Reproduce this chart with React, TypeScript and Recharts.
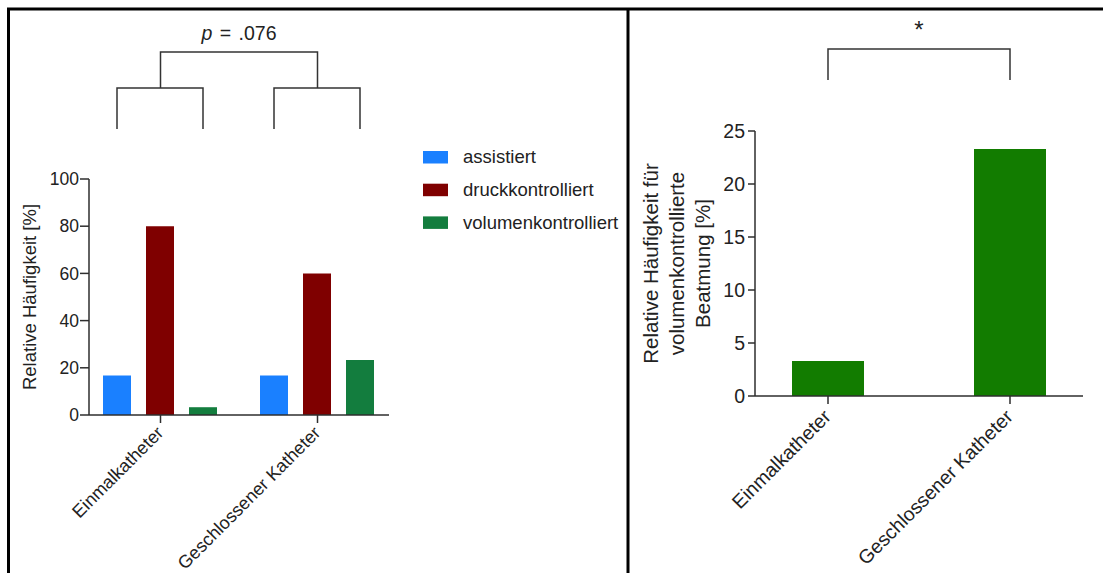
import React from 'react';
import { BarChart, Bar, XAxis, YAxis } from 'recharts';

// ---------- data ----------
const categories = ['Einmalkatheter', 'Geschlossener Katheter'];
const seriesNames = ['assistiert', 'druckkontrolliert', 'volumenkontrolliert'];
const assistiert = [16.7, 16.7];
const druckkontrolliert = [80, 60];
const volumenkontrolliert = [3.3, 23.3];
const leftTicks = [0, 20, 40, 60, 80, 100];

const rightValues = [3.3, 23.3];
const rightTicks = [0, 5, 10, 15, 20, 25];

const leftAnnotation = 'p';
const leftAnnotationRest = ' = .076';
const rightAnnotation = '*';
const leftYLabel = 'Relative Häufigkeit [%]';
const rightYLabel = ['Relative Häufigkeit für', 'volumenkontrollierte', 'Beatmung [%]'];

// ---------- styles ----------
const FONT = '"Liberation Sans", Arial, Helvetica, sans-serif';
const TEXT = '#222';
const AXIS = '#2e2e2e';
const seriesColors = ['#1a80ff', '#7f0000', '#137d3e'];
const rightColor = '#127c00';

// layout constants
const W = 1103;
const H = 573;
const L = { chartW: 628, plotX: 89, plotW: 300, plotY: 179, plotH: 236, pad: -7, catGap: 21, barGap: 15 };
const R = { chartX: 630, chartW: 473, plotX: 755, plotW: 328, plotY: 131, plotH: 265, pad: -18, barSize: 72 };

const leftData = categories.map((c, i) => ({
  name: c,
  assistiert: assistiert[i],
  druckkontrolliert: druckkontrolliert[i],
  volumenkontrolliert: volumenkontrolliert[i],
}));
const rightData = categories.map((c, i) => ({ name: c, value: rightValues[i] }));

const makeTick = (fontSize: number, dx: number, dy: number) => (props: any) => {
  const { x, y, payload } = props;
  return (
    <text
      transform={`translate(${x + dx},${y + dy}) rotate(-45)`}
      textAnchor="end"
      fontSize={fontSize}
      fontFamily={FONT}
      fill={TEXT}
    >
      {payload.value}
    </text>
  );
};

// geometry helpers for annotations (derived from layout constants)
const leftBand = (L.plotW - 2 * L.pad) / categories.length;
const leftCenter = (i: number) => L.plotX + L.pad + leftBand * (i + 0.5);
const leftBarW = Math.floor((leftBand - 2 * L.catGap - (seriesNames.length - 1) * L.barGap) / seriesNames.length);
const leftBarCenter = (i: number, s: number) =>
  L.plotX + L.pad + leftBand * i + L.catGap + (leftBarW + L.barGap) * s + leftBarW / 2;
const rightBand = (R.plotW - 2 * R.pad) / categories.length;
const rightCenter = (i: number) => R.plotX + R.pad + rightBand * (i + 0.5);

export default function App() {
  const bracketStroke = { stroke: '#333', strokeWidth: 1.5, fill: 'none' };
  const yTop1 = 52, yMid1 = 88, yBot1 = 129;
  const c0 = leftCenter(0), c1 = leftCenter(1);
  const lyc = L.plotY + L.plotH / 2;
  const ryc = R.plotY + R.plotH / 2;
  return (
    <div style={{ position: 'absolute', left: 0, top: 0, width: W, height: H, background: '#fff', overflow: 'hidden' }}>
      <div style={{ position: 'absolute', left: 0, top: 0 }}>
        <BarChart
          width={L.chartW}
          height={H}
          data={leftData}
          margin={{ top: L.plotY, right: L.chartW - L.plotX - L.plotW, bottom: H - L.plotY - L.plotH - 120, left: L.plotX - 60 }}
          barCategoryGap={L.catGap}
          barGap={L.barGap}
        >
          <XAxis
            dataKey="name"
            height={120}
            interval={0}
            padding={{ left: L.pad, right: L.pad }}
            tickSize={8}
            tickMargin={2}
            axisLine={{ stroke: AXIS, strokeWidth: 1.5 }}
            tickLine={{ stroke: AXIS, strokeWidth: 1.5 }}
            tick={makeTick(18, 4, 9)}
          />
          <YAxis
            width={60}
            domain={[0, 100]}
            ticks={leftTicks}
            interval={0}
            tickSize={9}
            tickMargin={1}
            axisLine={{ stroke: AXIS, strokeWidth: 1.5 }}
            tickLine={{ stroke: AXIS, strokeWidth: 1.5 }}
            tick={{ fontSize: 17.5, fontFamily: FONT, fill: TEXT }}
          />
          {seriesNames.map((s, i) => (
            <Bar key={s} dataKey={s} fill={seriesColors[i]} isAnimationActive={false} />
          ))}
        </BarChart>
      </div>
      <div style={{ position: 'absolute', left: R.chartX, top: 0 }}>
        <BarChart
          width={R.chartW}
          height={H}
          data={rightData}
          margin={{ top: R.plotY, right: R.chartX + R.chartW - R.plotX - R.plotW, bottom: H - R.plotY - R.plotH - 120, left: R.plotX - R.chartX - 60 }}
          barSize={R.barSize}
        >
          <XAxis
            dataKey="name"
            height={120}
            interval={0}
            padding={{ left: R.pad, right: R.pad }}
            tickSize={8}
            tickMargin={2}
            axisLine={{ stroke: AXIS, strokeWidth: 1.5 }}
            tickLine={{ stroke: AXIS, strokeWidth: 1.5 }}
            tick={makeTick(19.5, 4, 12)}
          />
          <YAxis
            width={60}
            domain={[0, 25]}
            ticks={rightTicks}
            interval={0}
            tickSize={7}
            tickMargin={3}
            axisLine={{ stroke: AXIS, strokeWidth: 1.5 }}
            tickLine={{ stroke: AXIS, strokeWidth: 1.5 }}
            tick={{ fontSize: 19.5, fontFamily: FONT, fill: TEXT }}
          />
          <Bar dataKey="value" fill={rightColor} isAnimationActive={false} />
        </BarChart>
      </div>
      <svg
        width={W}
        height={H}
        style={{ position: 'absolute', left: 0, top: 0, pointerEvents: 'none' }}
      >
        {/* frame */}
        <line x1={7} y1={9} x2={W} y2={9} stroke="#000" strokeWidth={3} />
        <line x1={8.5} y1={8} x2={8.5} y2={H} stroke="#000" strokeWidth={3} />
        <line x1={628} y1={8} x2={628} y2={H} stroke="#000" strokeWidth={3} />

        {/* left annotation */}
        <text x={(c0 + c1) / 2} y={40} textAnchor="middle" fontSize={19.5} fontFamily={FONT} fill={TEXT} wordSpacing={2}>
          <tspan fontStyle="italic">{leftAnnotation}</tspan>
          {leftAnnotationRest}
        </text>
        <path d={`M${c0},${yMid1} V${yTop1} H${c1} V${yMid1}`} {...bracketStroke} />
        {[0, 1].map((i) => (
          <path
            key={i}
            d={`M${leftBarCenter(i, 0)},${yBot1} V${yMid1} H${leftBarCenter(i, 2)} V${yBot1}`}
            {...bracketStroke}
          />
        ))}

        {/* left y label */}
        <text
          x={30}
          y={lyc}
          transform={`rotate(-90, 30, ${lyc})`}
          textAnchor="middle"
          dy="0.35em"
          fontSize={18.5}
          fontFamily={FONT}
          fill={TEXT}
        >
          {leftYLabel}
        </text>

        {/* legend */}
        {seriesNames.map((s, i) => (
          <g key={s}>
            <rect x={423} y={151 + i * 32.7} width={25} height={12.5} fill={seriesColors[i]} />
            <text x={463} y={157 + i * 32.7} dy="0.35em" fontSize={18.5} fontFamily={FONT} fill={TEXT}>
              {s}
            </text>
          </g>
        ))}

        {/* right annotation */}
        <text x={(rightCenter(0) + rightCenter(1)) / 2} y={38} textAnchor="middle" fontSize={24} fontFamily={FONT} fill={TEXT}>
          {rightAnnotation}
        </text>
        <path d={`M${rightCenter(0)},80 V49 H${rightCenter(1)} V80`} {...bracketStroke} />

        {/* right y label */}
        <text
          x={677}
          y={ryc}
          transform={`rotate(-90, 677, ${ryc})`}
          textAnchor="middle"
          fontSize={20.5}
          fontFamily={FONT}
          fill={TEXT}
        >
          {rightYLabel.map((t, i) => (
            <tspan key={i} x={677} y={ryc + (i - 1) * 26} dy="0.35em">
              {t}
            </tspan>
          ))}
        </text>
      </svg>
    </div>
  );
}
